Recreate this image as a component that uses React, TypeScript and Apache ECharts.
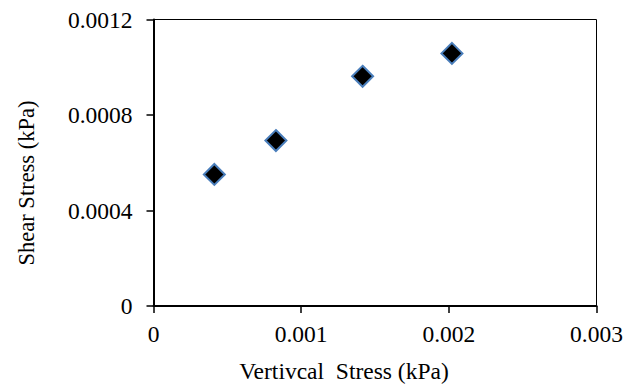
import React, { useEffect, useRef } from "react";
import * as echarts from "echarts";

const verticalStress = [0.000412, 0.000829, 0.001416, 0.002021];
const shearStress = [0.000551, 0.000693, 0.000962, 0.001058];
const xTitle = "Vertivcal  Stress (kPa)";
const yTitle = "Shear Stress (kPa)";

export default function App() {
  const ref = useRef<HTMLDivElement>(null);
  useEffect(() => {
    if (!ref.current) return;
    const chart = echarts.init(ref.current, null, { renderer: "svg" });
    const font = "Liberation Serif";
    const fmt = (v: number) => String(parseFloat(v.toPrecision(6)));
    chart.setOption({
      animation: false,
      backgroundColor: "#ffffff",
      textStyle: { fontFamily: font, color: "#000" },
      grid: {
        left: 153.5,
        top: 19.5,
        right: 37.5,
        bottom: 82,
        show: true,
        borderColor: "#000",
        borderWidth: 1,
      },
      xAxis: {
        type: "value",
        min: 0,
        max: 0.003,
        interval: 0.001,
        axisLine: { show: true, lineStyle: { color: "#000", width: 2 } },
        axisTick: { show: true, inside: false, length: 7, lineStyle: { color: "#000", width: 1.5 } },
        splitLine: { show: false },
        axisLabel: {
          color: "#000",
          fontFamily: font,
          fontSize: 23.5,
          margin: 16,
          formatter: fmt,
        },
      },
      yAxis: {
        type: "value",
        min: 0,
        max: 0.0012,
        interval: 0.0004,
        axisLine: { show: true, lineStyle: { color: "#000", width: 2 } },
        axisTick: { show: true, inside: false, length: 7, lineStyle: { color: "#000", width: 1.5 } },
        splitLine: { show: false },
        axisLabel: {
          color: "#000",
          fontFamily: font,
          fontSize: 23.5,
          margin: 21,
          formatter: fmt,
        },
      },
      graphic: [
        {
          type: "text",
          x: 344,
          y: 371,
          style: {
            text: xTitle,
            fontFamily: font,
            fontSize: 23.5,
            fill: "#000",
            align: "center",
            verticalAlign: "middle",
          },
        },
        {
          type: "text",
          x: 26,
          y: 183,
          rotation: Math.PI / 2,
          style: {
            text: yTitle,
            fontFamily: font,
            fontSize: 22.5,
            fill: "#000",
            align: "center",
            verticalAlign: "middle",
          },
        },
      ],
      series: [
        {
          type: "scatter",
          data: verticalStress.map((x, i) => [x, shearStress[i]]),
          symbol: "diamond",
          symbolSize: 21,
          itemStyle: { color: "#000", borderColor: "#4A7EBB", borderWidth: 2, opacity: 1 },
        },
      ],
    });
    return () => chart.dispose();
  }, []);
  return (
    <div
      ref={ref}
      style={{ position: "fixed", left: 0, top: 0, width: 634, height: 388 }}
    />
  );
}
